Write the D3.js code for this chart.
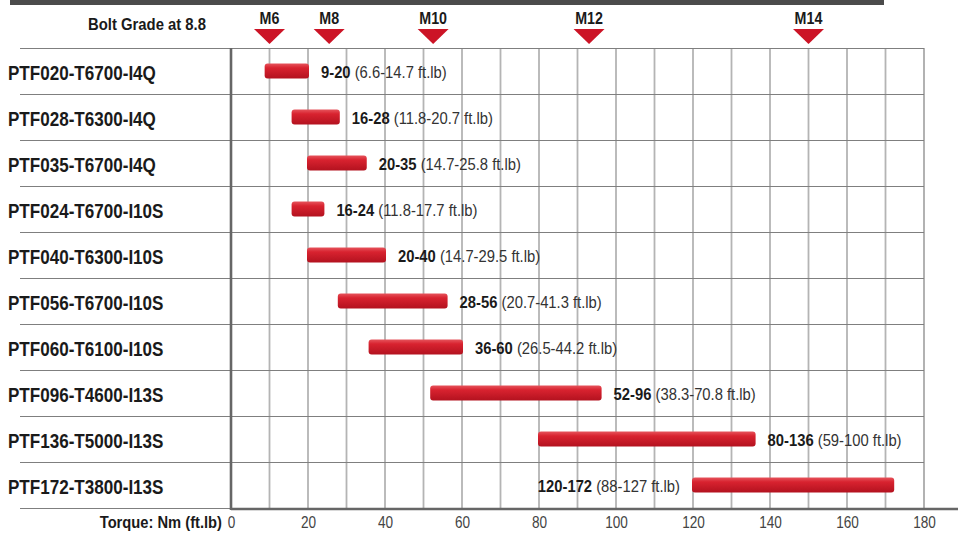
<!DOCTYPE html>
<html>
<head>
<meta charset="utf-8">
<script src="https://cdn.jsdelivr.net/npm/d3@7"></script>
<style>
  html, body { margin: 0; padding: 0; background: #fff; }
  svg { display: block; }
  text { font-family: "Liberation Sans", Arial, Helvetica, sans-serif; }
</style>
</head>
<body>
<svg id="chart" width="958" height="536"></svg>
<script>
// ---- data ----
const products = ["PTF020-T6700-I4Q", "PTF028-T6300-I4Q", "PTF035-T6700-I4Q", "PTF024-T6700-I10S",
  "PTF040-T6300-I10S", "PTF056-T6700-I10S", "PTF060-T6100-I10S", "PTF096-T4600-I13S",
  "PTF136-T5000-I13S", "PTF172-T3800-I13S"];
const nmLow  = [9, 16, 20, 16, 20, 28, 36, 52, 80, 120];
const nmHigh = [20, 28, 35, 24, 40, 56, 60, 96, 136, 172];
const ftLow  = ["6.6", "11.8", "14.7", "11.8", "14.7", "20.7", "26.5", "38.3", "59", "88"];
const ftHigh = ["14.7", "20.7", "25.8", "17.7", "29.5", "41.3", "44.2", "70.8", "100", "127"];
const boltSizes = ["M6", "M8", "M10", "M12", "M14"];
const boltTorque = [10, 25.5, 52.5, 93, 150];
const xTicks = [0, 20, 40, 60, 80, 100, 120, 140, 160, 180];
const headerLabel = "Bolt Grade at 8.8";
const axisLabel = "Torque: Nm (ft.lb)";

// ---- scales ----
const svg = d3.select("#chart");
const x = d3.scaleLinear().domain([0, 180]).range([231, 924]);
const y = d3.scaleBand().domain(products).range([48, 508]).padding(0);
const cy = d => y(d) + y.bandwidth() / 2;

// gradient for bars
const defs = svg.append("defs");
const grad = defs.append("linearGradient").attr("id", "barGrad")
  .attr("x1", 0).attr("y1", 0).attr("x2", 0).attr("y2", 1);
grad.append("stop").attr("offset", "0%").attr("stop-color", "#e6545c");
grad.append("stop").attr("offset", "30%").attr("stop-color", "#d8222f");
grad.append("stop").attr("offset", "100%").attr("stop-color", "#b3121f");

// top dark bar
svg.append("rect").attr("x", 10).attr("y", 0).attr("width", 874).attr("height", 5).attr("fill", "#4b4b4b");

// gridlines
svg.append("g").selectAll("line").data(d3.range(10, 180, 10)).join("line")
  .attr("x1", d => x(d)).attr("x2", d => x(d))
  .attr("y1", 48).attr("y2", 508)
  .attr("stroke", "#b4b4b4").attr("stroke-width", 1.8);

// row separators
const seps = products.map(p => y(p)).concat([508]);
svg.append("g").selectAll("line").data(seps).join("line")
  .attr("x1", 20).attr("x2", d => d === 508 ? 231 : 924)
  .attr("y1", d => d + 0.5).attr("y2", d => d + 0.5)
  .attr("stroke", "#7f7f7f").attr("stroke-width", 1.2);

// right border
svg.append("line").attr("x1", x(180)).attr("x2", x(180)).attr("y1", 48).attr("y2", 508)
  .attr("stroke", "#7f7f7f").attr("stroke-width", 1.2);

// left axis line
svg.append("line").attr("x1", x(0)).attr("x2", x(0)).attr("y1", 48).attr("y2", 510)
  .attr("stroke", "#666").attr("stroke-width", 2.6);

// bottom axis line
svg.append("line").attr("x1", x(0)).attr("x2", 958).attr("y1", 509).attr("y2", 509)
  .attr("stroke", "#666").attr("stroke-width", 2.6);

// bars
const idx = d3.range(products.length);
svg.append("g").selectAll("rect").data(idx).join("rect")
  .attr("x", i => x(nmLow[i]) - 1)
  .attr("y", i => cy(products[i]) - 7.5)
  .attr("width", i => x(nmHigh[i]) - x(nmLow[i]) + 2)
  .attr("height", 15)
  .attr("rx", 3).attr("ry", 3)
  .attr("fill", "url(#barGrad)");

// value labels
const vsx = 0.87;
const vg = svg.append("g");
idx.forEach(i => {
  const t = vg.append("text")
    .attr("font-size", "17px")
    .attr("fill", "#1a1a1a");
  t.append("tspan").attr("font-weight", "bold").text(nmLow[i] + "-" + nmHigh[i]);
  t.append("tspan").attr("fill", "#333").text(" (" + ftLow[i] + "-" + ftHigh[i] + " ft.lb)");
  const w = t.node().getComputedTextLength() * vsx;
  const yy = cy(products[i]) + 6.5;
  let tx = x(nmHigh[i]) + 13;
  let anchor = "start";
  if (tx + w > x(180) - 4) { tx = x(nmLow[i]) - 13; anchor = "end"; }
  t.attr("text-anchor", anchor)
   .attr("transform", `translate(${tx},${yy}) scale(${vsx},1)`);
});

// row labels
svg.append("g").selectAll("text").data(products).join("text")
  .attr("transform", d => `translate(8,${cy(d) + 8.5}) scale(0.875,1)`)
  .attr("font-size", "19.5px").attr("font-weight", "bold").attr("fill", "#1a1a1a")
  .text(d => d);

// header
svg.append("text")
  .attr("transform", "translate(206,30) scale(0.9,1)")
  .attr("text-anchor", "end")
  .attr("font-size", "16.5px").attr("font-weight", "bold").attr("fill", "#1a1a1a")
  .text(headerLabel);

// bolt markers
const bg = svg.append("g").selectAll("g").data(d3.range(boltSizes.length)).join("g")
  .attr("transform", i => `translate(${x(boltTorque[i])},0)`);
bg.append("path").attr("d", "M-15.5,29 L15.5,29 L0,44 Z").attr("fill", "#cc1426");
bg.append("text").attr("text-anchor", "middle").attr("y", 24)
  .attr("transform", "scale(0.84,1)")
  .attr("font-size", "17px").attr("font-weight", "bold").attr("fill", "#1a1a1a")
  .text(i => boltSizes[i]);

// x axis
const axis = d3.axisBottom(x).tickValues(xTicks).tickSize(0).tickPadding(0).tickFormat(d3.format("d"));
const ag = svg.append("g").attr("transform", "translate(0,527.5)").call(axis);
ag.select(".domain").remove();
ag.selectAll("text")
  .attr("y", 0).attr("dy", 0)
  .attr("transform", "scale(0.8,1)")
  .attr("font-family", "'Liberation Sans', Arial, sans-serif")
  .attr("font-size", "17px").attr("fill", "#444");

// axis label
svg.append("text")
  .attr("transform", "translate(222,527.5) scale(0.92,1)")
  .attr("text-anchor", "end")
  .attr("font-size", "16px").attr("font-weight", "bold").attr("fill", "#1a1a1a")
  .text(axisLabel);
</script>
</body>
</html>
